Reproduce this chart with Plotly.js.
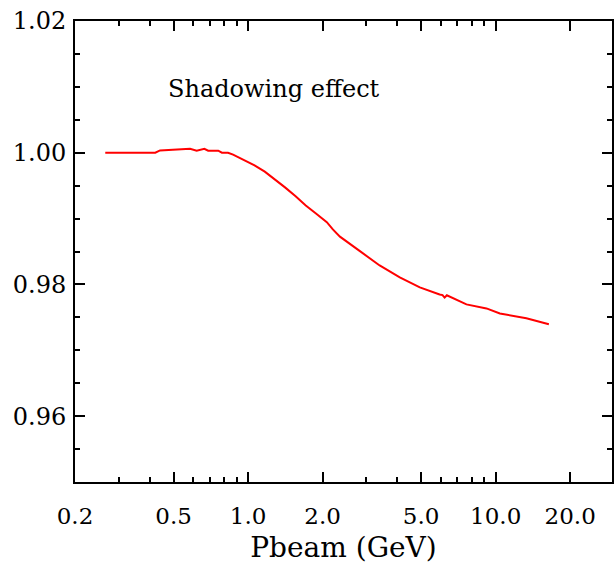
<!DOCTYPE html>
<html>
<head>
<meta charset="utf-8">
<script src="https://cdn.plot.ly/plotly-3.0.1.min.js"></script>
<style>html,body{margin:0;padding:0;background:#fff;}#chart{width:614px;height:564px;}</style>
</head>
<body>
<div id="chart"></div>
<script>
const pbeam = [0.265, 0.422, 0.441, 0.583, 0.620, 0.666, 0.690, 0.758, 0.784, 0.830, 0.870, 0.964, 1.062, 1.168, 1.284, 1.414, 1.556, 1.71, 1.88, 2.08, 2.20, 2.35, 2.83, 3.40, 4.10, 4.94, 5.94, 6.10, 6.22, 6.35, 7.62, 9.18, 10.4, 13.3, 16.4];
const ratio = [1.0000, 1.0000, 1.00035, 1.0006, 1.0003, 1.0006, 1.0003, 1.0003, 1.0000, 1.0000, 0.9997, 0.99886, 0.99808, 0.99712, 0.99598, 0.99470, 0.99338, 0.99197, 0.99076, 0.98945, 0.98835, 0.98725, 0.98505, 0.98288, 0.98106, 0.97955, 0.97848, 0.97838, 0.97800, 0.97835, 0.97697, 0.97636, 0.97560, 0.97485, 0.97394];
const xTickVals = [0.2, 0.5, 1, 2, 5, 10, 20];
const xTickText = ["0.2", "0.5", "1.0", "2.0", "5.0", "10.0", "20.0"];
const xMinorVals = [0.3, 0.4, 0.6, 0.7, 0.8, 0.9, 3, 4, 6, 7, 8, 9];
const yTickVals = [0.96, 0.98, 1.00, 1.02];
const yTickText = ["0.96", "0.98", "1.00", "1.02"];
const yMinorVals = [0.955, 0.965, 0.97, 0.975, 0.985, 0.99, 0.995, 1.005, 1.01, 1.015];
const label = "Shadowing effect";
const xTitle = "Pbeam (GeV)";

const font = "DejaVu Serif";
const trace = {
  x: pbeam, y: ratio, type: 'scatter', mode: 'lines',
  line: {color: '#ff0000', width: 2}, hoverinfo: 'none'
};
const layout = {
  width: 614, height: 564,
  margin: {l: 75, r: 2, t: 21, b: 82},
  paper_bgcolor: '#fff', plot_bgcolor: '#fff',
  showlegend: false,
  font: {family: font, color: '#000'},
  xaxis: {
    type: 'log', range: [Math.log10(0.2), Math.log10(29.5)],
    tickmode: 'array', tickvals: xTickVals, ticktext: xTickText,
    ticks: 'inside', ticklen: 10, tickwidth: 2, tickcolor: '#000',
    showline: true, linecolor: '#000', linewidth: 2, mirror: 'ticks',
    showgrid: false, zeroline: false,
    tickfont: {family: font, size: 23, color: '#000'},
    ticklabelstandoff: 12,
    minor: {tickmode: 'array', tickvals: xMinorVals, ticks: 'inside', ticklen: 5, tickwidth: 2, tickcolor: '#000', showgrid: false},
    title: {text: xTitle, font: {family: font, size: 28, color: '#000'}, standoff: 14}
  },
  yaxis: {
    range: [0.95, 1.02],
    tickmode: 'array', tickvals: yTickVals, ticktext: yTickText,
    ticks: 'inside', ticklen: 10, tickwidth: 2, tickcolor: '#000',
    showline: true, linecolor: '#000', linewidth: 2, mirror: 'ticks',
    showgrid: false, zeroline: false,
    tickfont: {family: font, size: 24, color: '#000'},
    ticklabelstandoff: 2,
    minor: {tickmode: 'array', tickvals: yMinorVals, ticks: 'inside', ticklen: 5, tickwidth: 2, tickcolor: '#000', showgrid: false}
  },
  annotations: [{
    text: label, xref: 'paper', yref: 'paper', x: 0.37, y: 0.852,
    xanchor: 'center', yanchor: 'middle', showarrow: false,
    font: {family: font, size: 24, color: '#000'}
  }]
};
Plotly.newPlot('chart', [trace], layout, {displayModeBar: false, staticPlot: true});
</script>
</body>
</html>
